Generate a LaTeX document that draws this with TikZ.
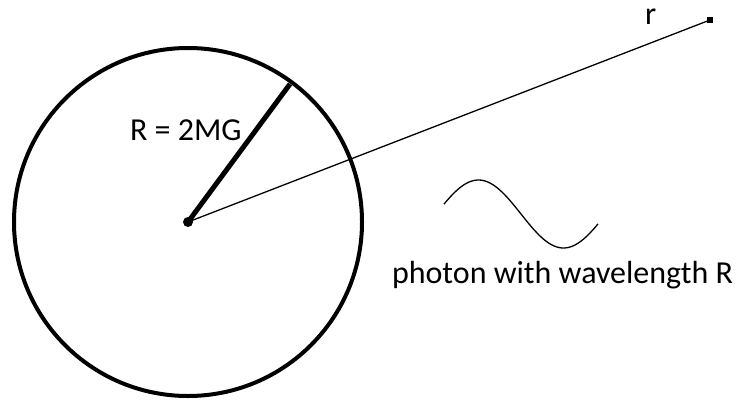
\documentclass[tikz,border=0pt]{standalone}
\usepackage{fontspec}
\setmainfont{Carlito}
\begin{document}
\begin{tikzpicture}[x=1pt,y=-1pt,line width=4pt]
	\useasboundingbox (0,0) rectangle (743,402);
	\fontsize{32}{38}\selectfont
	
	% Points
	\coordinate (c) at (188,222);      % centre
	\coordinate (rim) at (290,84);     % end of the radius
	\coordinate (far) at (710,20);     % distant point r
	
	% Circle of radius R
	\draw (c) circle (174);
	
	% Radius and line to r
	\draw[line width=5pt] (c) -- (rim);
	\draw[line width=1.3pt] (c) -- (far);
	\node[circle, fill, inner sep=0pt, minimum size=10pt] (cdot) at (c) {};
	\node[rectangle, fill, inner sep=0pt, minimum size=6pt] (fardot) at (far) {};
	
	% Photon
	\draw[line width=1.3pt, domain=444:598, samples=80, smooth]
		plot (\x, {214-34*sin((\x-436)/170*360)});
	
	% Labels
	\node[anchor=base west, inner sep=0pt] (rlabel) at (128,140) {R = 2MG};
	\node[anchor=base west, inner sep=0pt] (farlabel) at (643,24) {r};
	\node[anchor=base west, inner sep=0pt] (photon) at (390,283) {photon with wavelength R};
	
\end{tikzpicture}
\end{document}
